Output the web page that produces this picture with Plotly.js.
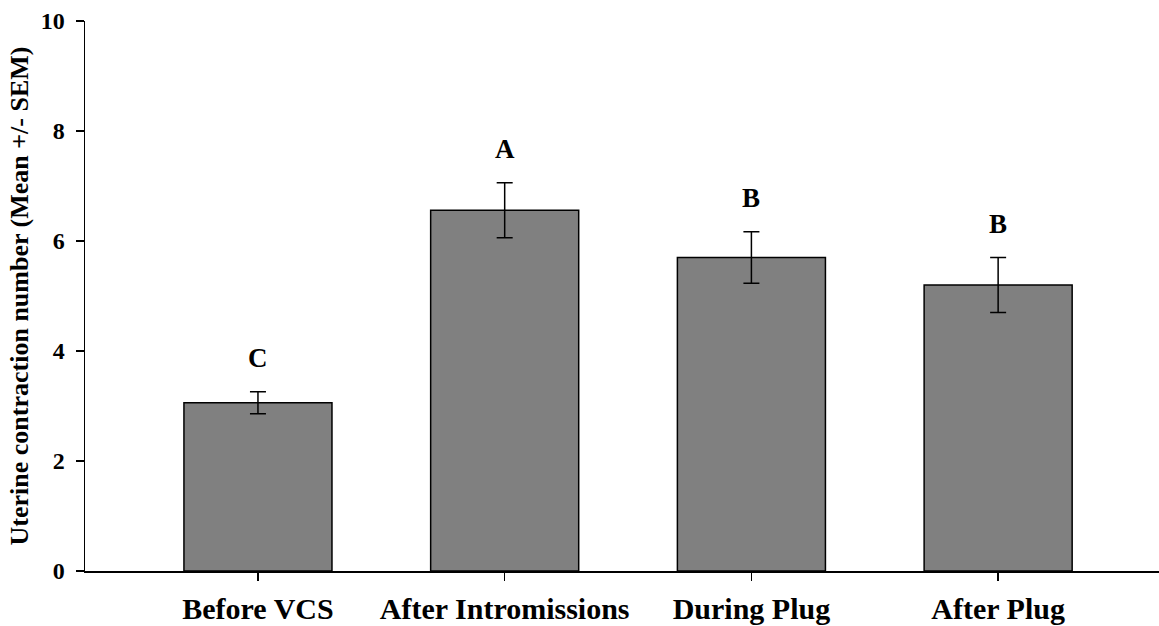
<!DOCTYPE html>
<html>
<head>
<meta charset="utf-8">
<script src="https://cdn.plot.ly/plotly-3.0.1.min.js"></script>
<style>
html, body { margin: 0; padding: 0; background: #ffffff; }
#chart { width: 1159px; height: 626px; }
</style>
</head>
<body>
<div id="chart"></div>
<script>
const categories = ['Before VCS', 'After Intromissions', 'During Plug', 'After Plug'];
const means = [3.06, 6.56, 5.70, 5.20];
const sems = [0.20, 0.50, 0.47, 0.50];
const letters = ['C', 'A', 'B', 'B'];
const yTicks = [0, 2, 4, 6, 8, 10];

const FONT = '"Liberation Serif", "Times New Roman", Times, serif';

const bar = {
  type: 'bar',
  x: categories,
  y: means,
  width: 0.6,
  marker: { color: '#808080', line: { color: '#000000', width: 1.5 } },
  error_y: { type: 'data', array: sems, visible: true, color: '#000000', thickness: 1.5, width: 8 },
  hoverinfo: 'x+y'
};

const annotations = categories.map((c, i) => ({
  x: c,
  y: means[i] + sems[i] + 0.30,
  xref: 'x',
  yref: 'y',
  text: '<b>' + letters[i] + '</b>',
  showarrow: false,
  yanchor: 'bottom',
  font: { family: FONT, size: 27, color: '#000000' }
}));

const layout = {
  width: 1159,
  height: 626,
  margin: { l: 85, r: 0, t: 21, b: 55 },
  paper_bgcolor: '#ffffff',
  plot_bgcolor: '#ffffff',
  showlegend: false,
  bargap: 0.4,
  xaxis: {
    type: 'category',
    range: [-0.701, 3.652],
    showline: true,
    linecolor: '#000000',
    linewidth: 1.5,
    showgrid: false,
    zeroline: false,
    ticks: 'outside',
    ticklen: 8,
    tickwidth: 1.5,
    tickcolor: '#000000',
    tickfont: { family: FONT, size: 30, color: '#000000', weight: 'bold' },
    ticklabelstandoff: 2,
    fixedrange: true
  },
  yaxis: {
    range: [0, 10],
    tickvals: yTicks,
    ticktext: yTicks.map(String),
    showline: true,
    linecolor: '#000000',
    linewidth: 1.5,
    showgrid: false,
    zeroline: false,
    ticks: 'outside',
    ticklen: 8,
    tickwidth: 1.5,
    tickcolor: '#000000',
    tickfont: { family: FONT, size: 24, color: '#000000', weight: 'bold' },
    ticklabelstandoff: 6,
    title: {
      text: '<b>Uterine contraction number (Mean +/- SEM)</b>',
      font: { family: FONT, size: 26, color: '#000000' },
      standoff: 4
    },
    automargin: false,
    fixedrange: true
  },
  annotations: annotations
};

Plotly.newPlot('chart', [bar], layout, { displayModeBar: false, staticPlot: true });
</script>
</body>
</html>
